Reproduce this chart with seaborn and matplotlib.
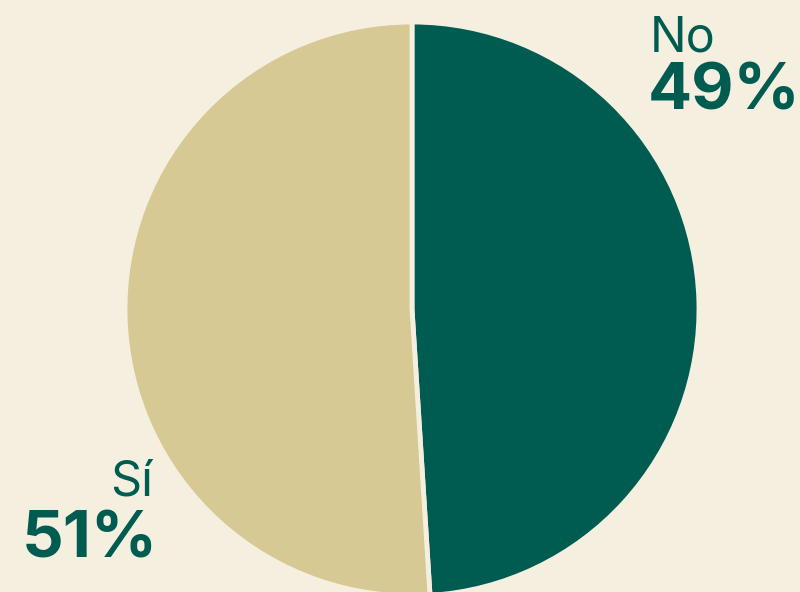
import matplotlib
matplotlib.use("Agg")
import matplotlib.pyplot as plt
import seaborn as sns

labels = ["No", "Sí"]
values = [49, 51]
colors = ["#005C50", "#D6C993"]
bg = "#F5EFE0"
text_color = "#005C50"

sns.set_theme(style="white")
plt.rcParams['font.family'] = ['Inter', 'DejaVu Sans']

fig = plt.figure(figsize=(8, 5.92), dpi=100, facecolor=bg)
W, H = 800, 592
cx, cy, r = 412, 309, 287
ax = fig.add_axes([(cx - r) / W, (H - cy - r) / H, 2 * r / W, 2 * r / H])
ax.set_facecolor(bg)
ax.pie(values, colors=colors, startangle=90, counterclock=False,
       wedgeprops=dict(edgecolor=bg, linewidth=3.5, joinstyle="round"),
       radius=1.0)
ax.set_xlim(-1, 1)
ax.set_ylim(-1, 1)
ax.set_aspect("equal")
ax.axis("off")

def fy(y):
    return (H - y) / H

fig.text(650 / W, fy(52), labels[0], ha="left", va="baseline",
         fontsize=35, color=text_color)
fig.text(648 / W, fy(110), f"{values[0]}%", ha="left", va="baseline",
         fontsize=47, fontweight="bold", color=text_color)
fig.text(153 / W, fy(495), labels[1], ha="right", va="baseline",
         fontsize=35, color=text_color)
fig.text(158 / W, fy(557), f"{values[1]}%", ha="right", va="baseline",
         fontsize=47, fontweight="bold", color=text_color)

fig.savefig("out.png", dpi=100, facecolor=bg)
